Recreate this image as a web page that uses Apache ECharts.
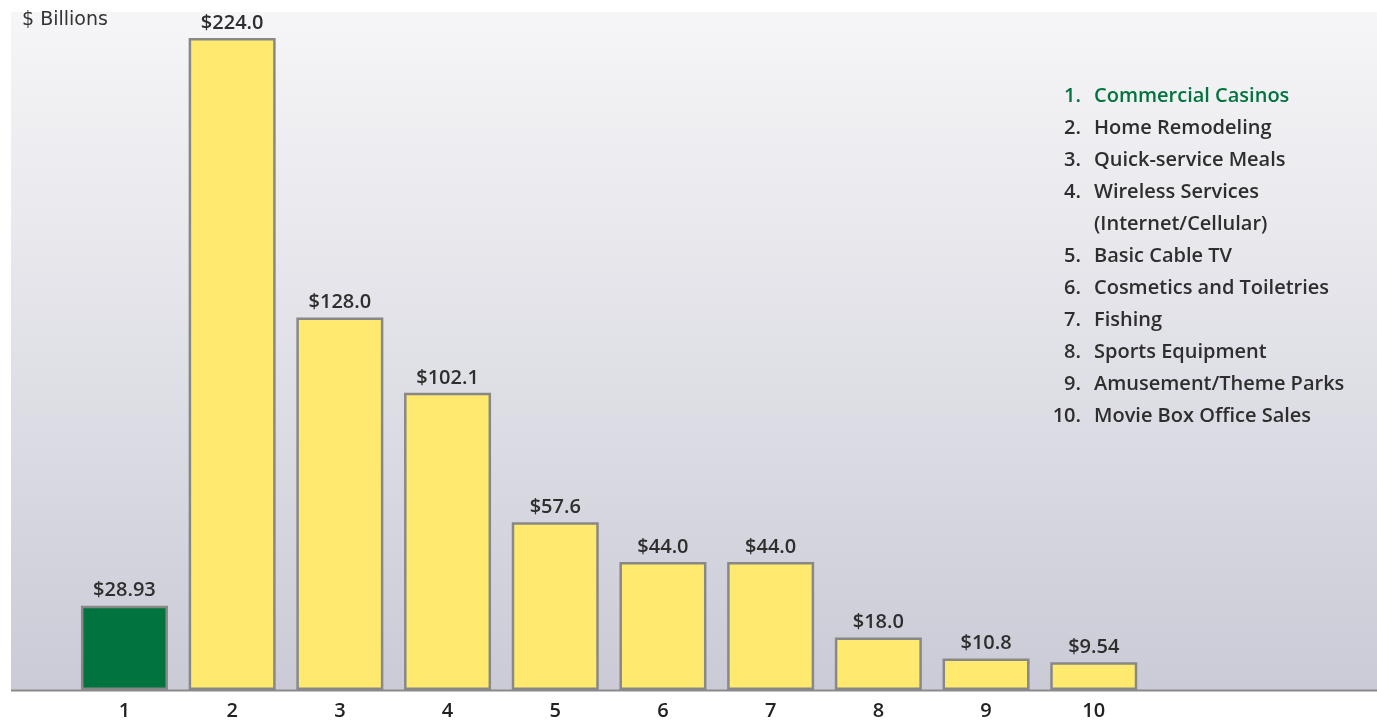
<!DOCTYPE html>
<html>
<head>
<meta charset="utf-8">
<script src="https://cdn.jsdelivr.net/npm/echarts@6/dist/echarts.min.js"></script>
<style>
  html, body { margin: 0; padding: 0; background: #ffffff; }
  #chart { width: 1377px; height: 725px; }
</style>
</head>
<body>
<div id="chart"></div>
<script>
// Annual U.S. consumer spending by category, $ billions
const categories = ['1', '2', '3', '4', '5', '6', '7', '8', '9', '10'];
const values = [28.93, 224.0, 128.0, 102.1, 57.6, 44.0, 44.0, 18.0, 10.8, 9.54];
const names = [
  'Commercial Casinos',
  'Home Remodeling',
  'Quick-service Meals',
  'Wireless Services\n(Internet/Cellular)',
  'Basic Cable TV',
  'Cosmetics and Toiletries',
  'Fishing',
  'Sports Equipment',
  'Amusement/Theme Parks',
  'Movie Box Office Sales'
];
const unitLabel = '$ Billions';

const FONT = '"Open Sans", "DejaVu Sans", sans-serif';
const GREEN = '#00733e';
const YELLOW = '#ffea6f';

function money(v) {
  const tenths = v * 10;
  const oneDecimal = Math.abs(tenths - Math.round(tenths)) < 1e-6;
  return '$' + (oneDecimal ? v.toFixed(1) : v.toFixed(2));
}

// Numbered key on the right
const keyGraphics = [];
let line = 0;
names.forEach((name, i) => {
  const y = 96 + line * 32;
  const color = i === 0 ? GREEN : '#2e2e2e';
  keyGraphics.push({
    type: 'text', x: 1081, y: y,
    style: { text: (i + 1) + '.', font: '600 20px ' + FONT, fill: color,
             align: 'right', verticalAlign: 'middle' }
  });
  keyGraphics.push({
    type: 'text', x: 1094, y: y - 16,
    style: { text: name, font: '600 20px ' + FONT, fill: color,
             align: 'left', verticalAlign: 'top', lineHeight: 32 }
  });
  line += name.split('\n').length;
});

const chart = echarts.init(document.getElementById('chart'), null, { renderer: 'canvas' });

chart.setOption({
  animation: false,
  backgroundColor: '#ffffff',
  graphic: [
    {
      type: 'rect', z: -10, silent: true,
      shape: { x: 11, y: 12, width: 1366, height: 678 },
      style: {
        fill: new echarts.graphic.LinearGradient(0, 0, 0, 1, [
          { offset: 0, color: '#f6f6f8' },
          { offset: 1, color: '#cbcbd7' }
        ])
      }
    },
    {
      type: 'line', z: 10, silent: true,
      shape: { x1: 11, y1: 690.5, x2: 1377, y2: 690.5 },
      style: { stroke: '#8a8a8a', lineWidth: 2 }
    },
    {
      type: 'text', x: 22, y: 20,
      style: { text: unitLabel, font: '400 19px "DejaVu Sans", sans-serif', fill: '#333333',
               verticalAlign: 'middle', align: 'left' }
    },
    ...keyGraphics
  ],
  grid: { left: 70.6, width: 1077, top: 38, bottom: 35, containLabel: false },
  xAxis: {
    type: 'category',
    data: categories,
    axisLine: { show: false },
    axisTick: { show: false },
    axisLabel: { color: '#222222', fontFamily: FONT, fontWeight: 600, fontSize: 20, margin: 11 }
  },
  yAxis: {
    type: 'value', min: 0, max: 224,
    show: false,
    splitLine: { show: false }
  },
  series: [{
    type: 'bar',
    barWidth: 87,
    data: values.map((v, i) => ({
      value: v,
      itemStyle: { color: i === 0 ? GREEN : YELLOW }
    })),
    itemStyle: { borderColor: '#888888', borderWidth: 2.5 },
    label: {
      show: true, position: 'top', distance: 5,
      formatter: p => money(p.value),
      color: '#2e2e2e', fontFamily: FONT, fontWeight: 600, fontSize: 20
    }
  }]
});
</script>
</body>
</html>
